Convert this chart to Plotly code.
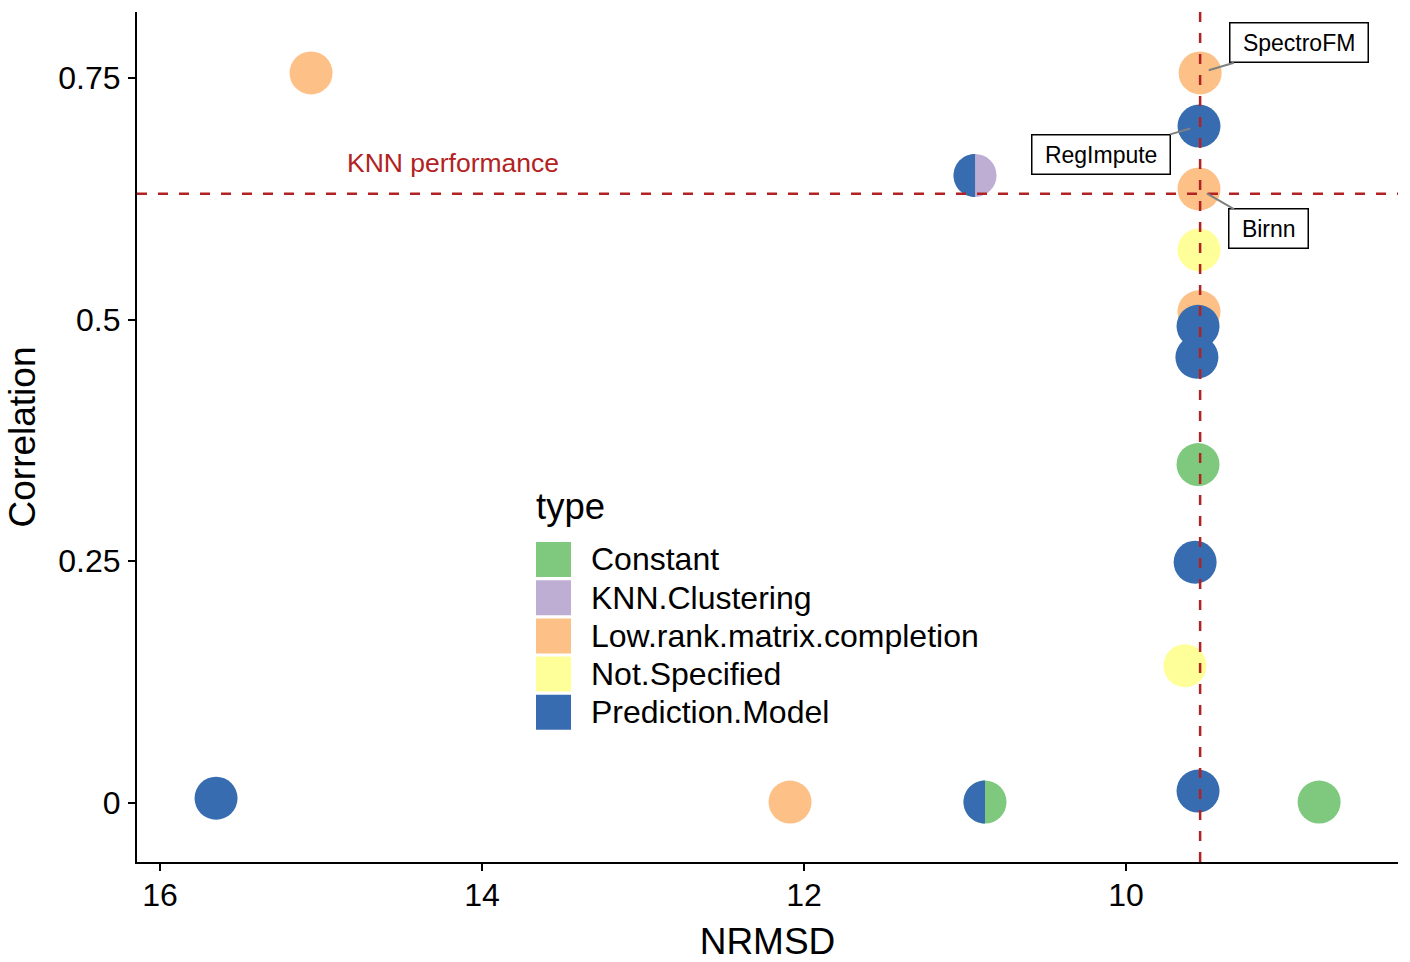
import plotly.graph_objects as go

# ---------------- data ----------------
nrmsd = [15.062, 9.540, 9.547, 9.547, 9.547, 9.547, 9.553, 9.560, 9.553, 9.571, 9.634, 9.553, 8.801, 15.652, 12.087]
correlation = [0.755, 0.755, 0.700, 0.635, 0.572, 0.508, 0.493, 0.461, 0.350, 0.249, 0.142, 0.0124, 0.001, 0.005, 0.001]
ptype = ["Low.rank.matrix.completion", "Low.rank.matrix.completion", "Prediction.Model",
         "Low.rank.matrix.completion", "Not.Specified", "Low.rank.matrix.completion",
         "Prediction.Model", "Prediction.Model", "Constant", "Prediction.Model",
         "Not.Specified", "Prediction.Model", "Constant", "Prediction.Model",
         "Low.rank.matrix.completion"]
labels = ["", "SpectroFM", "RegImpute", "Birnn", "", "", "", "", "", "", "", "", "", "", ""]
label_offsets = {"SpectroFM": (99, -30), "RegImpute": (-98, 28), "Birnn": (69, 40)}

# split points: method belonging to two types (left half, right half)
split_nrmsd = [10.876, 10.938]
split_corr = [0.001, 0.649]
split_left = ["Prediction.Model", "Prediction.Model"]
split_right = ["Constant", "KNN.Clustering"]

types = ["Constant", "KNN.Clustering", "Low.rank.matrix.completion", "Not.Specified", "Prediction.Model"]
palette = ["#7FC97F", "#BEAED4", "#FDC086", "#FFFF99", "#386CB0"]
cmap = dict(zip(types, palette))

knn_nrmsd = 9.540
knn_corr = 0.630
knn_text = "KNN performance"
knn_text_pos = (14.18, 0.662)

# ---------------- figure ----------------
W, H = 1410, 962
ML, MR, MT, MB = 137, 12, 12, 100
PW, PH = W - ML - MR, H - MT - MB

def px2paper(px, py):
    return (px - ML) / PW, (H - MB - py) / PH

FONT = "Liberation Sans, Arial, Helvetica, sans-serif"
MSIZE = 43
R = MSIZE / 2

fig = go.Figure()

# full circles
fig.add_trace(go.Scatter(
    x=nrmsd, y=correlation, mode="markers",
    marker=dict(size=MSIZE, color=[cmap[t] for t in ptype], line=dict(width=0), opacity=1),
    showlegend=False, hoverinfo="x+y"))

# split points: base circle in right colour
fig.add_trace(go.Scatter(
    x=split_nrmsd, y=split_corr, mode="markers",
    marker=dict(size=MSIZE, color=[cmap[t] for t in split_right], line=dict(width=0)),
    showlegend=False, hoverinfo="x+y"))

shapes = []
k = 0.5523
left_half = (f"M 0,{-R} C {-k*R},{-R} {-R},{-k*R} {-R},0 "
             f"C {-R},{k*R} {-k*R},{R} 0,{R} Z")
for xv, yv, lt in zip(split_nrmsd, split_corr, split_left):
    shapes.append(dict(type="path", xref="x", yref="y", xsizemode="pixel", ysizemode="pixel",
                       xanchor=xv, yanchor=yv, path=left_half,
                       fillcolor=cmap[lt], line=dict(width=0), layer="above"))

# reference dashed lines
shapes.append(dict(type="line", xref="x", yref="paper", x0=knn_nrmsd, x1=knn_nrmsd, y0=0, y1=1,
                   line=dict(color="#B22222", width=2.5, dash="10px,11px"), layer="above"))
shapes.append(dict(type="line", xref="paper", yref="y", x0=0, x1=1, y0=knn_corr, y1=knn_corr,
                   line=dict(color="#B22222", width=2.5, dash="10px,11px"), layer="above"))

annotations = []
annotations.append(dict(x=knn_text_pos[0], y=knn_text_pos[1], xref="x", yref="y", text=knn_text,
                        showarrow=False, font=dict(family=FONT, size=26.5, color="#B22222")))

for xv, yv, lab in zip(nrmsd, correlation, labels):
    if lab:
        ax, ay = label_offsets[lab]
        annotations.append(dict(x=xv, y=yv, xref="x", yref="y", text="\u00a0" + lab + "\u00a0",
                                showarrow=True,
                                ax=ax, ay=ay, arrowhead=0, arrowwidth=2, arrowcolor="#808080",
                                standoff=9, bgcolor="white", bordercolor="black", borderwidth=1.5,
                                borderpad=6, font=dict(family=FONT, size=23, color="black")))

# manual legend (ggplot style filled keys)
tx, ty = px2paper(534, 506)
annotations.append(dict(x=tx, y=ty, xref="paper", yref="paper", text="type", showarrow=False,
                        xanchor="left", yanchor="middle", font=dict(family=FONT, size=36.5, color="black")))
key_w = 35
for i, (t, c) in enumerate(zip(types, palette)):
    cy = 559.5 + i * 38.2
    x0, y0 = px2paper(536, cy + key_w / 2)
    x1, y1 = px2paper(536 + key_w, cy - key_w / 2)
    shapes.append(dict(type="rect", xref="paper", yref="paper", x0=x0, x1=x1, y0=y0, y1=y1,
                       fillcolor=c, line=dict(width=0), layer="above"))
    lx, ly = px2paper(589, cy)
    annotations.append(dict(x=lx, y=ly, xref="paper", yref="paper", text=t, showarrow=False,
                            xanchor="left", yanchor="middle",
                            font=dict(family=FONT, size=32, color="black")))

axis_common = dict(showline=True, linecolor="black", linewidth=2.2, ticks="outside",
                   ticklen=7, tickwidth=2.2, tickcolor="black", showgrid=False, zeroline=False,
                   tickfont=dict(family=FONT, size=32, color="black"), automargin=False)

fig.update_layout(
    width=W, height=H,
    margin=dict(l=ML, r=MR, t=MT, b=MB),
    paper_bgcolor="white", plot_bgcolor="white",
    shapes=shapes, annotations=annotations, showlegend=False,
    xaxis=dict(range=[16.143, 8.311], tickvals=[16, 14, 12, 10], ticktext=["16", "14", "12", "10"],
               ticklabelstandoff=-4,
               title=dict(text="NRMSD", font=dict(family=FONT, size=37, color="black"), standoff=18),
               **axis_common),
    yaxis=dict(range=[-0.061, 0.818], tickvals=[0, 0.25, 0.5, 0.75], ticktext=["0", "0.25", "0.5", "0.75"],
               ticklabelstandoff=1,
               title=dict(text="Correlation", font=dict(family=FONT, size=37, color="black"), standoff=11),
               **axis_common),
)

fig.write_html("out.html", config={"displayModeBar": False},
               post_script="document.body.style.margin='0';document.body.style.overflow='hidden';")
